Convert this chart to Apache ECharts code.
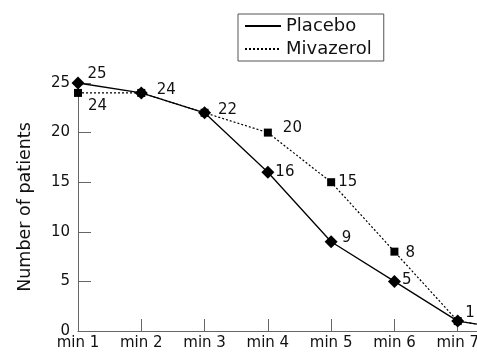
<!DOCTYPE html>
<html>
<head>
<meta charset="utf-8">
<script src="https://cdn.jsdelivr.net/npm/echarts@6/dist/echarts.min.js"></script>
<style>
  html, body { margin: 0; padding: 0; background: #fff; }
  #chart { width: 477px; height: 354px; }
</style>
</head>
<body>
<div id="chart"></div>
<script>
// last category is off the canvas, only the tail of the line shows
const categories = ['min 1', 'min 2', 'min 3', 'min 4', 'min 5', 'min 6', 'min 7', 'min 8']
const placebo = [25, 24, 22, 16, 9, 5, 1, 0]
const mivazerol = [24, 24, 22, 20, 15, 8, 1, 0]
const yTicks = [0, 5, 10, 15, 20, 25]

const font = "'DejaVu Sans', sans-serif"
const axisColor = '#666'

// which points get a value label, and where
const placeboLabels = {
  0: {distance: 3, offset: [0, -9]},
  1: {distance: 9, offset: [0, -3]},
  2: {distance: 7, offset: [0, -3]},
  3: {distance: 1, offset: [0, 0]},
  4: {distance: 4, offset: [0, -4]},
  5: {distance: 1, offset: [0, -1]},
  6: {distance: 1, offset: [0, -8]}
}
const mivaLabels = {
  0: {distance: 6, offset: [0, 13]},
  3: {distance: 11, offset: [0, -4]},
  4: {distance: 3, offset: [0, 0]},
  5: {distance: 7, offset: [0, 1]}
}

function withLabels(values, labels){
  return values.map((v, i) => {
    if (!labels[i]) return {value: v, label: {show: false}}
    return {value: v, label: Object.assign({show: true, position: 'right'}, labels[i])}
  })
}

const chart = echarts.init(document.getElementById('chart'))
chart.setOption({
  animation: false,
  textStyle: {fontFamily: font, color: '#111'},
  legend: {
    left: 238,
    top: 14,
    orient: 'vertical',
    itemWidth: 36,
    itemHeight: 14,
    itemGap: 5,
    itemTextGap: 8,
    padding: [3, 12, 3, 6],
    borderColor: '#555',
    borderWidth: 1,
    itemStyle: {opacity: 0},
    textStyle: {fontSize: 18, color: '#111', fontFamily: font},
    data: ['Placebo', 'Mivazerol']
  },
  grid: {
    left: 78,
    top: 83,
    width: 443,
    bottom: 23,
    outerBoundsMode: 'none'
  },
  xAxis: {
    type: 'category',
    data: categories,
    boundaryGap: false,
    axisLine: {lineStyle: {color: axisColor, width: 1}},
    axisTick: {inside: true, length: 12, lineStyle: {color: axisColor}},
    axisLabel: {fontSize: 15, color: '#111', margin: 5, fontFamily: font}
  },
  yAxis: {
    type: 'value',
    min: yTicks[0],
    max: yTicks[yTicks.length - 1],
    interval: 5,
    name: 'Number of patients',
    nameLocation: 'middle',
    nameGap: 44,
    nameTextStyle: {fontSize: 17.5, color: '#111', fontFamily: font},
    splitLine: {show: false},
    axisLine: {show: true, lineStyle: {color: axisColor, width: 1}},
    axisTick: {show: true, inside: true, length: 13, lineStyle: {color: axisColor}},
    axisLabel: {fontSize: 15, color: '#111', margin: 8, fontFamily: font}
  },
  series: [
    {
      name: 'Mivazerol',
      type: 'line',
      data: withLabels(mivazerol, mivaLabels),
      symbol: 'rect',
      symbolSize: 8,
      itemStyle: {color: '#000'},
      lineStyle: {color: '#000', width: 1.2, type: [2, 2]},
      label: {fontSize: 15, color: '#111', fontFamily: font},
      z: 2
    },
    {
      name: 'Placebo',
      type: 'line',
      data: withLabels(placebo, placeboLabels),
      symbol: 'diamond',
      symbolSize: 13,
      itemStyle: {color: '#000'},
      lineStyle: {color: '#000', width: 1.3},
      label: {fontSize: 15, color: '#111', fontFamily: font},
      z: 3
    }
  ]
})
</script>
</body>
</html>
